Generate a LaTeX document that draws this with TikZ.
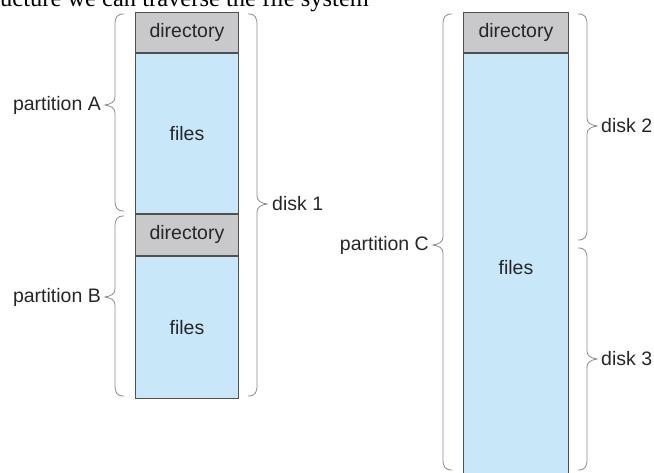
\documentclass[tikz,border=0pt]{standalone}
\usepackage{fontspec}
\setmainfont{Liberation Sans}
\newfontfamily\headserif{Liberation Serif}
\definecolor{dirgray}{HTML}{C9C9CB}
\definecolor{fileblue}{HTML}{C8E8FA}
\definecolor{edgegray}{HTML}{505050}
\definecolor{bracegray}{HTML}{8A8A8A}
\definecolor{inkgray}{HTML}{262626}

% Vertical curly brace: #1 x of the straight part, #2 top y, #3 tip y,
% #4 bottom y, #5 side of the tip (-1 = left, +1 = right).
\newcommand\curlybrace[5]{%
  \draw[bracegray, line width=0.8pt]
    ({#1-(#5)*9},#2) .. controls ({#1-(#5)*2},#2) and (#1,{#2+3}) .. (#1,{#2+11})
    -- (#1,{#3-8}) .. controls (#1,{#3-3}) and ({#1+(#5)*4},{#3-1}) .. ({#1+(#5)*10},#3)
    .. controls ({#1+(#5)*4},{#3+1}) and (#1,{#3+3}) .. (#1,{#3+8})
    -- (#1,{#4-11}) .. controls (#1,{#4-3}) and ({#1-(#5)*2},#4) .. ({#1-(#5)*9},#4);}

\begin{document}
\begin{tikzpicture}[x=1pt,y=-1pt,
  every node/.style={inner sep=0pt, text=inkgray, font=\fontsize{19.5}{22}\selectfont},
  block/.style={draw=edgegray, line width=0.9pt, anchor=north west, minimum width=103pt},
  dirblock/.style={block, fill=dirgray},
  fileblock/.style={block, fill=fileblue},
  tag/.style={}]
\useasboundingbox (0,0) rectangle (654,473);
\clip (0,0) rectangle (654,473);

% heading line, cut off by the top edge
\node[anchor=base west, font=\headserif\fontsize{24.5}{28}\selectfont, text=black]
  (head) at (0,7) {ucture we can traverse the file system};

% disk 1 with partitions A and B
\node[dirblock, minimum height=40pt] (dirA) at (135,12) {directory};
\node[fileblock, minimum height=160pt] (filesA) at (dirA.south west) {files};
\node[dirblock, minimum height=41pt] (dirB) at (filesA.south west) {directory};
\node[fileblock, minimum height=142pt] (filesB) at (dirB.south west) {files};

% partition C spread over disks 2 and 3
\node[dirblock, minimum width=105pt, minimum height=40pt] (dirC) at (463,12) {directory};
\node[fileblock, minimum width=105pt, minimum height=428pt] (filesC) at (dirC.south west) {files};

% braces
\curlybrace{115}{14}{105}{211}{-1}
\curlybrace{115}{216}{297}{396}{-1}
\curlybrace{257}{14}{204}{396}{1}
\curlybrace{443}{14}{245}{470}{-1}
\curlybrace{587}{14}{126}{240}{1}
\curlybrace{587}{248}{359}{470}{1}

% labels
\node[tag, anchor=east] (labA) at (101,105) {partition A};
\node[tag, anchor=east] (labB) at (101,297) {partition B};
\node[tag, anchor=east] (labC) at (429,245) {partition C};
\node[tag, anchor=west] (labD1) at (272,204) {disk 1};
\node[tag, anchor=west] (labD2) at (601,126) {disk 2};
\node[tag, anchor=west] (labD3) at (601,359) {disk 3};
\end{tikzpicture}
\end{document}
